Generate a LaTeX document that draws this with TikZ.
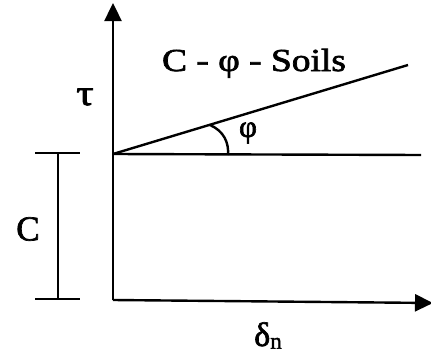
\documentclass[tikz,border=0pt]{standalone}
\usepackage{fontspec}
\setmainfont{Liberation Serif}
\newfontfamily\heavyserif[FakeBold=2]{Liberation Serif}
\usetikzlibrary{arrows.meta}
\begin{document}
\begin{tikzpicture}[x=1pt,y=-1pt,line width=2.4pt,
  axis/.style={-{Triangle[length=18pt,width=17pt]}},
  lbl/.style={inner sep=0pt,font=\heavyserif\fontsize{31}{33}\selectfont}]
\useasboundingbox (0,0) rectangle (431,356);
% points
\coordinate (O) at (113,300);
\coordinate (ytip) at (113,3);
\coordinate (xtip) at (433,303);
\coordinate (A) at (113,154);
\coordinate (H) at (421,155);
\coordinate (S) at (408,65);
\coordinate (arcS) at (210,125);
\coordinate (arcE) at (228,155);
\coordinate (bt) at (58,153);
\coordinate (bb) at (58,299);
\coordinate (btl) at (35,153);
\coordinate (btr) at (80,153);
\coordinate (bbl) at (35,299);
\coordinate (bbr) at (80,299);
% axes
\draw[axis] (O) -- (ytip);
\draw[axis] (O) -- (xtip);
% lines
\draw (A) -- (H);
\draw (A) -- (S);
\draw (arcS) .. controls (224,131) and (229,143) .. (arcE);
% bracket
\draw (bt) -- (bb);
\draw (btl) -- (btr);
\draw (bbl) -- (bbr);
% labels
\node[lbl,anchor=base,font=\heavyserif\fontsize{32}{34}\selectfont] (title) at (254,71) {\scalebox{1.17}[1]{C - φ - Soils}};
\node[lbl,font=\heavyserif\fontsize{36}{38}\selectfont] (tau) at (85,97) {\scalebox{1.2}[1]{τ}};
\node[lbl] (phi) at (248,133) {φ};
\node[inner sep=0pt,font=\heavyserif\fontsize{35}{37}\selectfont] (C) at (28,229) {C};
\node[lbl,anchor=base,font=\heavyserif\fontsize{34}{36}\selectfont] (dn) at (268,346) {δ\raisebox{-0.08em}{\fontsize{23}{24}\selectfont n}};
\end{tikzpicture}
\end{document}
